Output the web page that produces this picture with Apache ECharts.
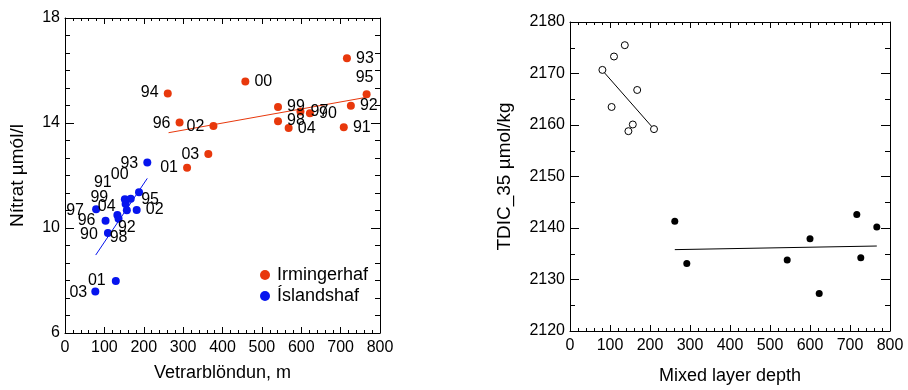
<!DOCTYPE html>
<html><head><meta charset="utf-8">
<script src="https://cdn.jsdelivr.net/npm/echarts@6/dist/echarts.min.js"></script>
<style>html,body{margin:0;padding:0;background:#fff}#c{width:908px;height:390px}</style>
</head><body><div id="c"></div>
<script>
// ---- Left panel data: nitrate vs mixed layer depth ----
const irmYears = ['90','91','92','93','94','95','96','97','98','99','00','01','02','03','04'];
const irmX = [622, 708, 726, 716, 261, 766, 291, 598, 541, 541, 458, 310, 377, 364, 568];
const irmY = [14.37, 13.84, 14.66, 16.47, 15.12, 15.10, 14.02, 14.44, 14.07, 14.61, 15.58, 12.30, 13.89, 12.82, 13.81];
const irmFitX = [263, 766];
const irmFitY = [13.63, 14.98];

const islYears = ['93','97','96','90','03','01','04','91','00','99','98','92','02','95'];
const islX = [209, 79, 103, 109, 77, 129, 154, 152, 167, 133, 136, 157, 182, 188];
const islY = [12.50, 10.71, 10.28, 9.81, 7.58, 7.98, 10.91, 11.10, 11.11, 10.50, 10.35, 10.68, 10.69, 11.36];
const islFitX = [78, 209];
const islFitY = [8.97, 11.89];

const leftXTicks = [0, 100, 200, 300, 400, 500, 600, 700, 800];
const leftYTicks = [6, 10, 14, 18];

// ---- Right panel data: TDIC vs mixed layer depth ----
const openX = [81, 110, 137, 168, 104, 157, 146, 210];
const openY = [2170.7, 2173.3, 2175.5, 2166.8, 2163.5, 2160.1, 2158.8, 2159.2];
const openFitX = [81, 210];
const openFitY = [2170.6, 2159.2];
const filledX = [262, 292, 543, 600, 623, 717, 727, 767];
const filledY = [2141.3, 2133.1, 2133.8, 2137.9, 2127.3, 2142.6, 2134.2, 2140.2];
const filledFitX = [262, 767];
const filledFitY = [2135.8, 2136.5];

const rightXTicks = [0, 100, 200, 300, 400, 500, 600, 700, 800];
const rightYTicks = [2120, 2130, 2140, 2150, 2160, 2170, 2180];

// ---- styles ----
const FONT = 'Liberation Sans, Arial, sans-serif';
const RED = '#e8380c';
const BLUE = '#0614ee';
// label offsets (px from point centre) – style only
const irmLabelOff = {'90':[18,0],'91':[18,0],'92':[18,0],'93':[18,0],'94':[-18,-1],'95':[-2,-17],'96':[-18,1],'97':[19,0],'98':[18,-1],'99':[18,0],'00':[18,0],'01':[-18,0],'02':[-18,1],'03':[-18,1],'04':[18,1]};
const islLabelOff = {'93':[-18,1],'97':[-21,1],'96':[-19,0],'90':[-19,2],'03':[-17,1],'01':[-19,0],'04':[-19,2],'91':[-22,-17],'00':[-11,-24],'99':[-18,-17],'98':[0,19],'92':[0,17],'02':[18,0],'95':[11,7]};

const zip = (xs, ys) => xs.map((x, i) => [x, ys[i]]);
function labeled(xs, ys, yrs, offs) {
  return xs.map((x, i) => ({
    value: [x, ys[i]],
    label: { show: true, formatter: yrs[i], position: 'inside', offset: offs[yrs[i]],
             color: '#000', fontSize: 16, fontFamily: FONT, align: 'center', verticalAlign: 'middle' }
  }));
}

function axisPair(gridIndex, min, max, interval, minorSplit, isX, majorLen, minorLen, ticks) {
  const common = {
    type: 'value', gridIndex, min, max, interval,
    axisLine: { show: true, onZero: false, lineStyle: { color: '#000', width: 1 } },
    axisTick: { show: true, inside: true, length: majorLen, lineStyle: { color: '#000' } },
    minorTick: { show: true, splitNumber: minorSplit, length: minorLen, lineStyle: { color: '#000' } },
    splitLine: { show: false }
  };
  const main = Object.assign({}, common, {
    position: isX ? 'bottom' : 'left',
    axisLabel: { show: true, color: '#000', fontSize: 16, fontFamily: FONT, margin: isX ? 7 : 5,
                 formatter: v => ticks.includes(v) ? String(v) : '' }
  });
  const mirror = Object.assign({}, common, {
    position: isX ? 'top' : 'right',
    axisLabel: { show: false }
  });
  return [main, mirror];
}

const [lx0, lx1] = axisPair(0, 0, 800, 100, 5, true, 6, 3, leftXTicks);
const [ly0, ly1] = axisPair(0, 6, 18, 4, 6, false, 9, 5, leftYTicks);
const [rx0, rx1] = axisPair(1, 0, 800, 100, 5, true, 6, 3, rightXTicks);
const [ry0, ry1] = axisPair(1, 2120, 2180, 10, 2, false, 9, 5, rightYTicks);

lx0.name = 'Vetrarblöndun, m'; lx0.nameLocation = 'middle'; lx0.nameGap = 31;
lx0.nameTextStyle = { color: '#000', fontSize: 18, fontFamily: FONT };
ly0.name = 'Nítrat µmól/l'; ly0.nameLocation = 'middle'; ly0.nameGap = 38;
ly0.nameTextStyle = { color: '#000', fontSize: 19, fontFamily: FONT };
rx0.name = 'Mixed layer depth'; rx0.nameLocation = 'middle'; rx0.nameGap = 36;
rx0.nameTextStyle = { color: '#000', fontSize: 18, fontFamily: FONT };
ry0.name = 'TDIC_35 µmol/kg'; ry0.nameLocation = 'middle'; ry0.nameGap = 56;
ry0.nameTextStyle = { color: '#000', fontSize: 19, fontFamily: FONT };

const option = {
  animation: false,
  backgroundColor: '#fff',
  grid: [
    { left: 65, top: 18, width: 315, height: 315 },
    { left: 570, top: 22, width: 320, height: 316 }
  ],
  xAxis: [lx0, lx1, rx0, rx1],
  yAxis: [ly0, ly1, ry0, ry1],
  legend: {
    data: ['Irmingerhaf', 'Íslandshaf'],
    orient: 'vertical', left: 255, top: 261, itemGap: 3,
    icon: 'circle', itemWidth: 10, itemHeight: 10,
    textStyle: { color: '#000', fontSize: 18, fontFamily: FONT, padding: [0, 0, 0, 2] }
  },
  series: [
    { name: 'Irmingerhaf', type: 'scatter', xAxisIndex: 0, yAxisIndex: 0, symbolSize: 8,
      itemStyle: { color: RED, opacity: 1 }, data: labeled(irmX, irmY, irmYears, irmLabelOff), z: 3 },
    { name: 'Íslandshaf', type: 'scatter', xAxisIndex: 0, yAxisIndex: 0, symbolSize: 8,
      itemStyle: { color: BLUE, opacity: 1 }, data: labeled(islX, islY, islYears, islLabelOff), z: 3 },
    { type: 'line', xAxisIndex: 0, yAxisIndex: 0, showSymbol: false, silent: true,
      lineStyle: { color: RED, width: 1 }, data: zip(irmFitX, irmFitY), z: 2 },
    { type: 'line', xAxisIndex: 0, yAxisIndex: 0, showSymbol: false, silent: true,
      lineStyle: { color: BLUE, width: 1 }, data: zip(islFitX, islFitY), z: 2 },
    { type: 'scatter', xAxisIndex: 2, yAxisIndex: 2, symbolSize: 7,
      itemStyle: { color: '#fff', borderColor: '#000', borderWidth: 1, opacity: 1 }, data: zip(openX, openY), z: 3 },
    { type: 'scatter', xAxisIndex: 2, yAxisIndex: 2, symbolSize: 7,
      itemStyle: { color: '#000', opacity: 1 }, data: zip(filledX, filledY), z: 3 },
    { type: 'line', xAxisIndex: 2, yAxisIndex: 2, showSymbol: false, silent: true,
      lineStyle: { color: '#000', width: 1 }, data: zip(openFitX, openFitY), z: 2 },
    { type: 'line', xAxisIndex: 2, yAxisIndex: 2, showSymbol: false, silent: true,
      lineStyle: { color: '#000', width: 1 }, data: zip(filledFitX, filledFitY), z: 2 }
  ]
};
const chart = echarts.init(document.getElementById('c'), null, { renderer: 'canvas' });
chart.setOption(option);
</script>
</body></html>
